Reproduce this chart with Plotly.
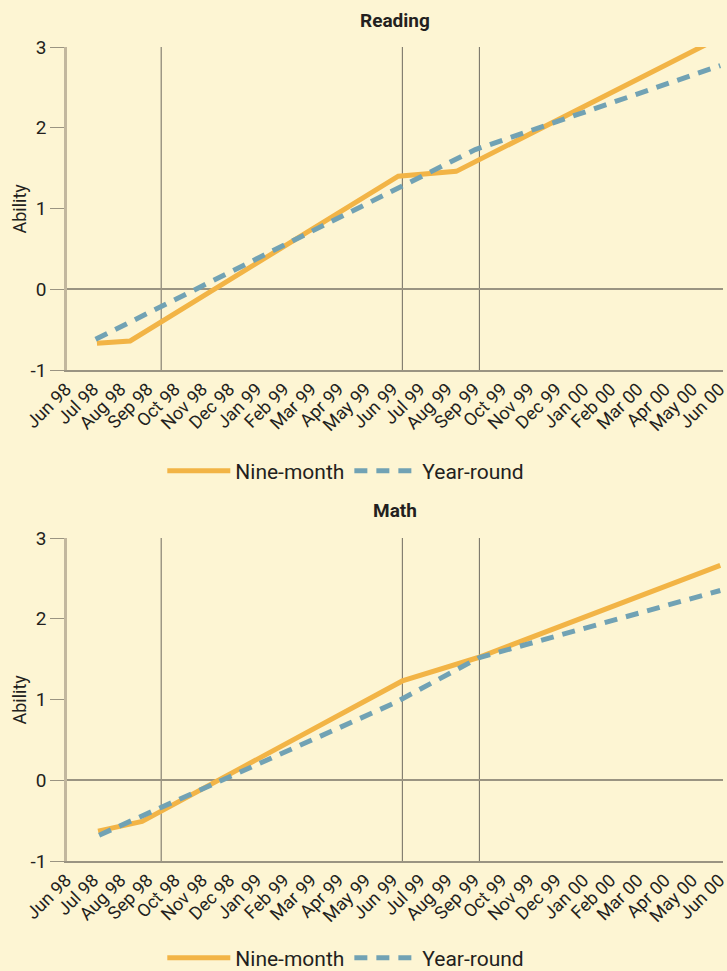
import plotly.graph_objects as go

# ---- tick labels (months from Jun 98 = 0) ----
month_labels = ["Jun 98", "Jul 98", "Aug 98", "Sep 98", "Oct 98", "Nov 98", "Dec 98",
                "Jan 99", "Feb 99", "Mar 99", "Apr 99", "May 99", "Jun 99", "Jul 99",
                "Aug 99", "Sep 99", "Oct 99", "Nov 99", "Dec 99", "Jan 00", "Feb 00",
                "Mar 00", "Apr 00", "May 00", "Jun 00"]
month_pos = list(range(len(month_labels)))
y_ticks = [-1, 0, 1, 2, 3]
y_ticktext = ["-1", "0", "1", "2", "3"]

# ---- reference vertical lines (in months from Jun 98) ----
marker_months = [3.46, 12.32, 15.15]

# ---- Reading ----
reading_nine_x = [1.10, 2.32, 12.17, 14.30, 24.0]
reading_nine_y = [-0.67, -0.64, 1.40, 1.46, 3.12]
reading_year_x = [1.05, 14.37, 15.0, 24.0]
reading_year_y = [-0.62, 1.64, 1.73, 2.77]

# ---- Math ----
math_nine_x = [1.14, 2.76, 12.32, 15.11, 24.0]
math_nine_y = [-0.63, -0.51, 1.23, 1.52, 2.66]
math_year_x = [1.18, 11.99, 15.15, 24.0]
math_year_y = [-0.68, 0.95, 1.52, 2.35]

ORANGE = "#F2B446"
BLUE = "#71A2B4"
BG = "#FDF5D3"
TXT = "#231F20"
FONT = "Roboto"

fig = go.Figure()

def add_pair(nx, ny, yx, yy, xa, ya, legend):
    fig.add_trace(go.Scatter(x=nx, y=ny, mode="lines", name="Nine-month",
                             line=dict(color=ORANGE, width=5),
                             xaxis=xa, yaxis=ya, legend=legend, hoverinfo="skip"))
    fig.add_trace(go.Scatter(x=yx, y=yy, mode="lines", name="Year-round",
                             line=dict(color=BLUE, width=5, dash="13px,9px"),
                             xaxis=xa, yaxis=ya, legend=legend, hoverinfo="skip"))

add_pair(reading_nine_x, reading_nine_y, reading_year_x, reading_year_y, "x", "y", "legend")
add_pair(math_nine_x, math_nine_y, math_year_x, math_year_y, "x2", "y2", "legend2")

H = 971.0
L, R = 67, 4
PW = 727 - L - R
top_dom = [1 - 370 / H, 1 - 47 / H]
bot_dom = [1 - 861 / H, 1 - 538 / H]

xcommon = dict(range=[0, 24.1], tickmode="array", tickvals=month_pos, ticktext=month_labels,
               tickangle=-45, showgrid=False, zeroline=False, showline=True,
               linecolor="#9A9482", linewidth=1.5, ticks="", fixedrange=True,
               automargin=False, ticklabeloverflow="allow", ticklabelshift=-1,
               tickfont=dict(family=FONT, size=18, color=TXT))
ycommon = dict(range=[-1, 3], tickmode="array", tickvals=y_ticks, ticktext=y_ticktext,
               showgrid=False, zeroline=True, zerolinecolor="#9A9482", zerolinewidth=2,
               showline=True, linecolor="#C2B79E", linewidth=2.5,
               ticks="outside", ticklen=14, tickcolor="#9A9482", tickwidth=1.2,
               automargin=False, fixedrange=True,
               tickfont=dict(family=FONT, size=19, color=TXT))

fig.update_layout(
    width=727, height=971,
    paper_bgcolor=BG, plot_bgcolor=BG,
    margin=dict(l=L, r=R, t=0, b=0, autoexpand=False),
    xaxis=dict(**xcommon, anchor="y", domain=[0, 1]),
    yaxis=dict(**ycommon, anchor="x", domain=top_dom),
    xaxis2=dict(**xcommon, anchor="y2", domain=[0, 1]),
    yaxis2=dict(**ycommon, anchor="x2", domain=bot_dom),
    legend=dict(orientation="h", x=0.425, xanchor="center", y=1 - 471 / H, yanchor="middle",
                font=dict(family=FONT, size=21, color=TXT), itemwidth=63,
                bgcolor="rgba(0,0,0,0)"),
    legend2=dict(orientation="h", x=0.425, xanchor="center", y=1 - 958 / H, yanchor="middle",
                 font=dict(family=FONT, size=21, color=TXT), itemwidth=63,
                 bgcolor="rgba(0,0,0,0)"),
    showlegend=True,
)

for xa, ya in (("x", "y"), ("x2", "y2")):
    for m in marker_months:
        fig.add_shape(type="line", xref=xa, yref=ya, x0=m, x1=m, y0=-1, y1=3,
                      line=dict(color="#6E6A60", width=1), layer="below")

titles = [("Reading", 20), ("Math", 510)]
for text, ypx in titles:
    fig.add_annotation(text="<b>" + text + "</b>", xref="paper", yref="paper",
                       x=0.5, y=1 - ypx / H, xanchor="center", yanchor="middle",
                       showarrow=False, font=dict(family=FONT, size=19, color=TXT))

# y-axis titles placed as rotated text
for dom in (top_dom, bot_dom):
    fig.add_annotation(text="Ability", xref="paper", yref="paper",
                       x=(19 - L) / PW, y=(dom[0] + dom[1]) / 2,
                       xanchor="center", yanchor="middle", textangle=-90,
                       showarrow=False, font=dict(family=FONT, size=18, color=TXT))

fig.write_html(
    "out.html",
    config={"displayModeBar": False},
    post_script="document.body.style.margin='0';document.body.style.overflow='hidden';"
                "document.documentElement.style.overflow='hidden';",
)
